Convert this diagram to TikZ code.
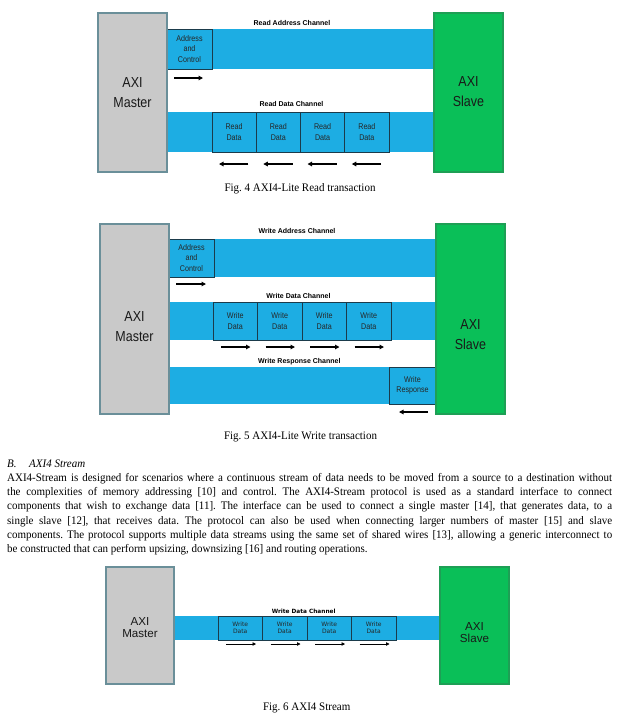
\documentclass[tikz,border=0pt]{standalone}
\usepackage{fontspec}
\setmainfont[FakeStretch=0.955]{Liberation Serif}
\newfontfamily\narrowsans[FakeStretch=0.86]{Liberation Sans}
\newfontfamily\plainsans{Liberation Sans}
\newfontfamily\widesans{DejaVu Sans}
\usepackage{tikz}
\usetikzlibrary{positioning,arrows.meta}
\definecolor{chanblue}{HTML}{1DADE3}
\definecolor{mastergray}{HTML}{C9C9C9}
\definecolor{masteredge}{HTML}{6A8F99}
\definecolor{slavegreen}{HTML}{0ABF58}
\definecolor{slaveedge}{HTML}{1E9F55}
\definecolor{beatedge}{HTML}{1B3B4B}

\begin{document}
\begin{tikzpicture}[x=1pt,y=-1pt,
	master/.style={draw=masteredge, line width=1.3pt, fill=mastergray, outer sep=0},
	slave/.style={draw=slaveedge, line width=1.3pt, fill=slavegreen, outer sep=0},
	chan/.style={fill=chanblue, inner sep=0, outer sep=0},
	beat/.style={draw=beatedge, line width=0.8pt, fill=chanblue, inner sep=0, outer sep=0, align=center, text=black!85, font=\narrowsans\fontsize{8.3}{10.3}\selectfont},
	beatsmall/.style={beat, font=\widesans\fontsize{6}{6.5}\selectfont},
	bigtxt/.style={align=center, text=black!90, inner sep=0, font=\narrowsans\fontsize{14.5}{20}\selectfont},
	midtxt/.style={align=center, text=black!90, inner sep=0, font=\plainsans\fontsize{11.6}{12}\selectfont},
	chanlabel/.style={anchor=base, inner sep=0, font=\plainsans\bfseries\fontsize{7}{8}\selectfont},
	chanlabelsmall/.style={anchor=base, inner sep=0, font=\widesans\bfseries\fontsize{5.8}{7}\selectfont},
	flow/.style={line width=1.3pt, -{Triangle[length=4.5pt,width=4.5pt]}},
	flowthin/.style={line width=0.8pt, -{Triangle[length=3.5pt,width=3.5pt]}},
	caption/.style={anchor=base, inner sep=0, font=\fontsize{11.5}{13}\selectfont\frenchspacing},
	para/.style={anchor=base west, inner sep=0, text width=605pt, align=justify, font=\fontsize{11.5}{14.2}\selectfont\frenchspacing}
]
\fill[white] (0,0) rectangle (617,718);
\useasboundingbox (0,0) rectangle (617,718);

% Fig. 4 -- read transaction
\node[chan, minimum width=267, minimum height=40] (ra4) at (300.5,49) {};
\node[chan, minimum width=267, minimum height=40] (rd4) at (300.5,132) {};
\node[beat, minimum width=45, minimum height=40] (ac4) at (189.5,49) {Address\\and\\Control};
\node[beat, minimum width=44.25, minimum height=40, anchor=west] (rd4a) at (212,132) {Read\\Data};
\node[beat, minimum width=44.25, minimum height=40, right=0pt of rd4a] (rd4b) {Read\\Data};
\node[beat, minimum width=44.25, minimum height=40, right=0pt of rd4b] (rd4c) {Read\\Data};
\node[beat, minimum width=44.25, minimum height=40, right=0pt of rd4c] (rd4d) {Read\\Data};
\node[master, minimum width=69, minimum height=159] (m4) at (132.5,92.5) {};
\node[slave, minimum width=69, minimum height=159] (s4) at (468.5,92.5) {};
\node[bigtxt] (m4txt) at (132.5,92.3) {AXI\\Master};
\node[bigtxt] (s4txt) at (468.5,92) {AXI\\Slave};
\node[chanlabel] (ra4lbl) at (292,25.3) {Read Address Channel};
\node[chanlabel] (rd4lbl) at (291.5,106.5) {Read Data Channel};
\draw[flow] ([shift={(7,9)}]ac4.south west) -- ([shift={(36,9)}]ac4.south west);
\draw[flow] ([shift={(-8,12)}]rd4a.south east) -- ([shift={(7,12)}]rd4a.south west);
\draw[flow] ([shift={(-8,12)}]rd4b.south east) -- ([shift={(7,12)}]rd4b.south west);
\draw[flow] ([shift={(-8,12)}]rd4c.south east) -- ([shift={(7,12)}]rd4c.south west);
\draw[flow] ([shift={(-8,12)}]rd4d.south east) -- ([shift={(7,12)}]rd4d.south west);
\node[caption] (cap4) at (300,191.5) {Fig. 4 AXI4-Lite Read transaction};

% Fig. 5 -- write transaction
\node[chan, minimum width=267, minimum height=38] (wa5) at (302.5,258) {};
\node[chan, minimum width=267, minimum height=38] (wd5) at (302.5,321) {};
\node[chan, minimum width=267, minimum height=37] (wr5) at (302.5,385.5) {};
\node[beat, minimum width=45, minimum height=38] (ac5) at (191.5,258) {Address\\and\\Control};
\node[beat, minimum width=44.5, minimum height=38, anchor=west] (wd5a) at (213,321) {Write\\Data};
\node[beat, minimum width=44.5, minimum height=38, right=0pt of wd5a] (wd5b) {Write\\Data};
\node[beat, minimum width=44.5, minimum height=38, right=0pt of wd5b] (wd5c) {Write\\Data};
\node[beat, minimum width=44.5, minimum height=38, right=0pt of wd5c] (wd5d) {Write\\Data};
\node[beat, minimum width=47, minimum height=37] (resp5) at (412.5,385.5) {Write\\Response};
\node[master, minimum width=69, minimum height=190] (m5) at (134.5,319) {};
\node[slave, minimum width=69, minimum height=190] (s5) at (470.5,319) {};
\node[bigtxt] (m5txt) at (134.5,326.5) {AXI\\Master};
\node[bigtxt] (s5txt) at (470.5,335) {AXI\\Slave};
\node[chanlabel] (wa5lbl) at (297,233.3) {Write Address Channel};
\node[chanlabel] (wd5lbl) at (298.5,298) {Write Data Channel};
\node[chanlabel] (wr5lbl) at (299.3,363) {Write Response Channel};
\draw[flow] ([shift={(7,7)}]ac5.south west) -- ([shift={(37,7)}]ac5.south west);
\draw[flow] ([shift={(8,7)}]wd5a.south west) -- ([shift={(-7,7)}]wd5a.south east);
\draw[flow] ([shift={(8,7)}]wd5b.south west) -- ([shift={(-7,7)}]wd5b.south east);
\draw[flow] ([shift={(8,7)}]wd5c.south west) -- ([shift={(-7,7)}]wd5c.south east);
\draw[flow] ([shift={(8,7)}]wd5d.south west) -- ([shift={(-7,7)}]wd5d.south east);
\draw[flow] ([shift={(-8,8)}]resp5.south east) -- ([shift={(10,8)}]resp5.south west);
\node[caption] (cap5) at (300.5,439) {Fig. 5 AXI4-Lite Write transaction};

% section text
\node[anchor=base west, inner sep=0, font=\fontsize{11.5}{13}\selectfont\itshape] (sec) at (7,467.5) {\makebox[22pt][l]{B.}AXI4 Stream};
\node[para] (txt) at (7,481.5) {AXI4-Stream is designed for scenarios where a continuous stream of data needs to be moved from a source to a destination without\linebreak
the complexities of memory addressing [10] and control. The AXI4-Stream protocol is used as a standard interface to connect\linebreak
components that wish to exchange data [11]. The interface can be used to connect a single master [14], that generates data, to a\linebreak
single slave [12], that receives data. The protocol can also be used when connecting larger numbers of master [15] and slave\linebreak
components. The protocol supports multiple data streams using the same set of shared wires [13], allowing a generic interconnect to\linebreak
be constructed that can perform upsizing, downsizing [16] and routing operations.};

% Fig. 6 -- stream
\node[chan, minimum width=266, minimum height=24] (wd6) at (307,628) {};
\node[beatsmall, minimum width=44.5, minimum height=24, anchor=west] (wd6a) at (218,628) {Write\\Data};
\node[beatsmall, minimum width=44.5, minimum height=24, right=0pt of wd6a] (wd6b) {Write\\Data};
\node[beatsmall, minimum width=44.5, minimum height=24, right=0pt of wd6b] (wd6c) {Write\\Data};
\node[beatsmall, minimum width=44.5, minimum height=24, right=0pt of wd6c] (wd6d) {Write\\Data};
\node[master, minimum width=68, minimum height=117] (m6) at (140,625.5) {};
\node[slave, minimum width=69, minimum height=117] (s6) at (474.5,625.5) {};
\node[midtxt] (m6txt) at (140,627.5) {AXI\\Master};
\node[midtxt] (s6txt) at (474.5,633) {AXI\\Slave};
\node[chanlabelsmall] (wd6lbl) at (303.7,613.3) {Write Data Channel};
\draw[flowthin] ([shift={(8,4)}]wd6a.south west) -- ([shift={(-6.5,4)}]wd6a.south east);
\draw[flowthin] ([shift={(8,4)}]wd6b.south west) -- ([shift={(-6.5,4)}]wd6b.south east);
\draw[flowthin] ([shift={(8,4)}]wd6c.south west) -- ([shift={(-6.5,4)}]wd6c.south east);
\draw[flowthin] ([shift={(8,4)}]wd6d.south west) -- ([shift={(-6.5,4)}]wd6d.south east);
\node[caption] (cap6) at (306.7,710) {Fig. 6 AXI4 Stream};
\end{tikzpicture}
\end{document}
